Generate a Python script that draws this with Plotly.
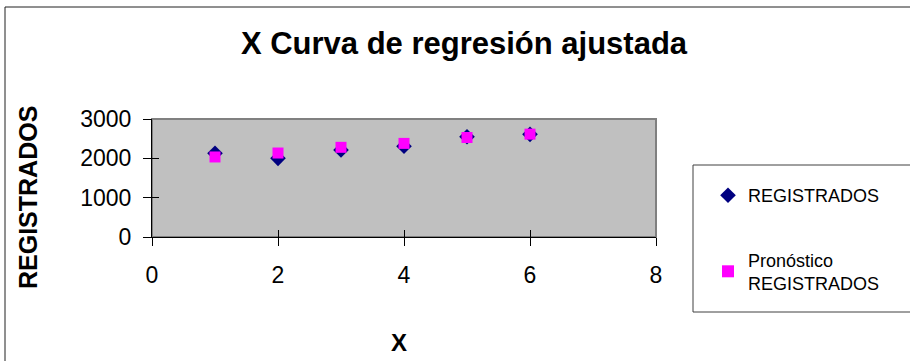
import plotly.graph_objects as go

x_vals = [1, 2, 3, 4, 5, 6]
registrados = [2130, 2000, 2210, 2310, 2550, 2610]
pronostico = [2035, 2135, 2280, 2380, 2530, 2615]
x_ticks = [0, 2, 4, 6, 8]
y_ticks = [0, 1000, 2000, 3000]

FONT = "Arial, Liberation Sans, sans-serif"

# plot area in pixels
L, R, T, B = 152, 656, 119, 237
W, H = 910, 361
pw, ph = R - L, B - T

def px_x(p):
    return (p - L) / pw

def px_y(p):
    return (B - p) / ph

fig = go.Figure()
fig.add_trace(go.Scatter(
    x=x_vals, y=registrados, mode="markers", name="REGISTRADOS",
    legendgroup="a",
    marker=dict(symbol="diamond", size=12, color="#000080"),
))
fig.add_trace(go.Scatter(
    x=x_vals, y=pronostico, mode="markers", name="Pronóstico<br>REGISTRADOS",
    legendgroup="b",
    marker=dict(symbol="square", size=11, color="#FF00FF"),
))

fig.update_layout(
    width=W, height=H,
    margin=dict(l=L, r=W - R, t=T, b=H - B, pad=0),
    paper_bgcolor="white",
    plot_bgcolor="#C0C0C0",
    font=dict(family=FONT, color="black"),
    title=dict(text="<b>X Curva de regresión ajustada</b>",
               font=dict(size=31, family=FONT, color="black"),
               xref="container", x=464 / W, xanchor="center",
               yref="container", y=1 - 43 / H, yanchor="middle"),
    xaxis=dict(range=[0, 8], tickvals=x_ticks, showgrid=False, zeroline=False,
               showline=True, linecolor="black", linewidth=1,
               ticks="outside", ticklen=8, tickcolor="black", tickwidth=1,
               tickfont=dict(size=23), ticklabelstandoff=9),
    yaxis=dict(range=[0, 3000], tickvals=y_ticks, showgrid=False, zeroline=False,
               showline=True, linecolor="black", linewidth=1,
               ticks="outside", ticklen=8, tickcolor="black", tickwidth=1,
               tickfont=dict(size=23), ticklabelstandoff=7),
    xaxis2=dict(overlaying="x", matches="x", range=[0, 8], tickvals=x_ticks,
                showgrid=False, zeroline=False, showticklabels=False,
                ticks="inside", ticklen=7, tickcolor="black", side="bottom"),
    yaxis2=dict(overlaying="y", matches="y", range=[0, 3000], tickvals=y_ticks,
                showgrid=False, zeroline=False, showticklabels=False,
                ticks="inside", ticklen=7, tickcolor="black", side="left"),
    showlegend=True,
    legend=dict(x=px_x(708), y=px_y(177), xanchor="left", yanchor="top",
                bgcolor="rgba(0,0,0,0)", borderwidth=0, maxheight=300,
                font=dict(size=18, family=FONT), tracegroupgap=38,
                itemsizing="constant"),
)

# dummy trace to activate overlay axes (no legend)
fig.add_trace(go.Scatter(x=[None], y=[None], xaxis="x2", yaxis="y2",
                         showlegend=False, hoverinfo="skip"))

# plot area border (grey), below axis lines
fig.add_shape(type="rect", xref="x domain", yref="y domain", x0=0, x1=1, y0=0, y1=1,
              line=dict(color="#808080", width=2), layer="below")
# legend box
fig.add_shape(type="rect", xref="paper", yref="paper",
              x0=px_x(693), x1=px_x(920), y0=px_y(312), y1=px_y(165),
              line=dict(color="#404040", width=1), fillcolor="rgba(0,0,0,0)")
# outer chart border
fig.add_shape(type="rect", xref="paper", yref="paper",
              x0=px_x(5), x1=px_x(925), y0=px_y(380), y1=px_y(7),
              line=dict(color="#202020", width=1), fillcolor="rgba(0,0,0,0)")

# axis titles
fig.add_annotation(text="<b>REGISTRADOS</b>", xref="paper", yref="paper",
                   x=px_x(28), y=px_y(198), textangle=-90, showarrow=False,
                   font=dict(size=25, family=FONT), xanchor="center", yanchor="middle")
fig.add_annotation(text="<b>X</b>", xref="paper", yref="paper",
                   x=px_x(399), y=px_y(342), showarrow=False,
                   font=dict(size=24, family=FONT), xanchor="center", yanchor="middle")

fig.write_html(
    "out.html",
    config={"displayModeBar": False},
    post_script="document.body.style.margin='0';document.body.style.overflow='hidden';",
)
